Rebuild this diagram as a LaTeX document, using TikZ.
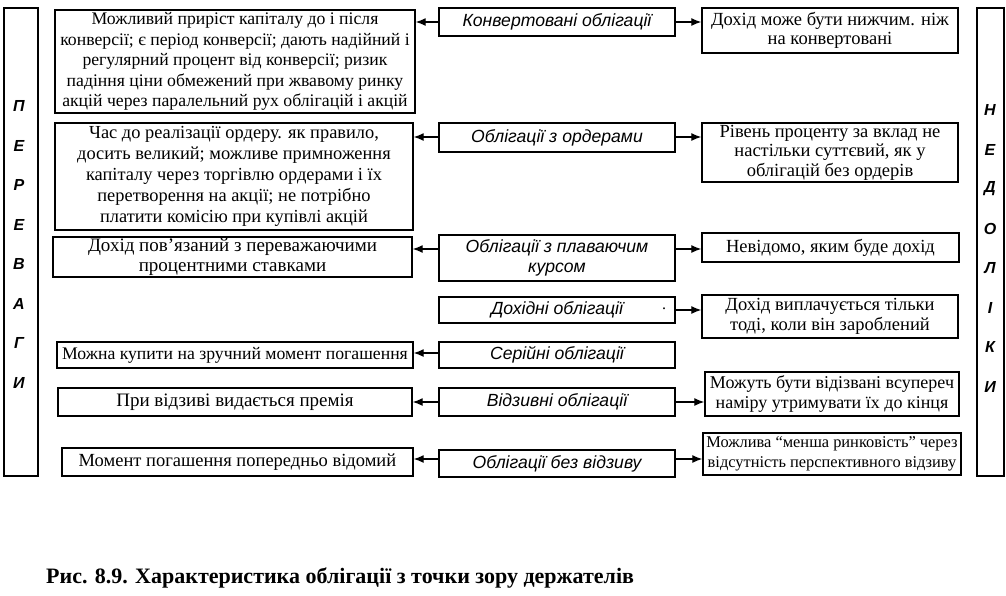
\documentclass[tikz,border=0pt]{standalone}
\usepackage{fontspec}
\setmainfont{Liberation Serif}
\newfontfamily\midfont{Liberation Sans}
\usetikzlibrary{arrows.meta}
\newcommand{\fs}[2]{\fontsize{#1}{#2}\selectfont}
\tikzset{
  box/.style={draw, line width=1.4pt, inner sep=0.5pt, align=center, font=\fs{17.7}{20.5}},
  lbox/.style={box},
  rbox/.style={box, font=\fs{18.5}{19.5}},
  mbox/.style={draw, line width=1.4pt, inner sep=0.5pt, align=center, minimum width=236pt, font=\midfont\itshape\fs{17.6}{20}},
  side/.style={draw, line width=1.2pt},
  sideletter/.style={font=\midfont\itshape\bfseries\fs{16}{16}, inner sep=0pt},
  arr/.style={-{Latex[length=10pt,width=8pt]}, line width=1.3pt},
  caption/.style={font=\bfseries\fs{22}{25}, anchor=west, inner sep=0pt}
}
\begin{document}
\begin{tikzpicture}[x=1pt,y=-1pt]
\useasboundingbox (0,0) rectangle (1006,595);
\fill[white] (0,0) rectangle (1006,595);

% side frames
\node[side, minimum width=34pt, minimum height=468pt, inner sep=0pt] (leftframe) at (21,242) {};
\node[side, minimum width=27pt, minimum height=468pt, inner sep=0pt] (rightframe) at (990.5,242) {};

% side letters
\foreach \t [count=\i from 0] in {П,Е,Р,Е,В,А,Г,И}
  \node[sideletter] (pl\i) at (19,{106+39.5*\i}) {\t};
\foreach \t [count=\i from 0] in {Н,Е,Д,О,Л,І,К,И}
  \node[sideletter] (nl\i) at (990,{110+39.5*\i}) {\t};

% left boxes
\node[lbox, minimum width=360pt, minimum height=103pt] (l1) at (235,61.5)
 {Можливий приріст капіталу до і після\\ конверсії; є період конверсії; дають надійний і\\ регулярний процент від конверсії; ризик\\ падіння ціни обмежений при жвавому ринку\\ акцій через паралельний рух облігацій і акцій};
\node[lbox, minimum width=358pt, minimum height=107pt, font=\fs{18.4}{21}] (l2) at (234,176.5)
 {Час до реалізації ордеру. як правило,\\ досить великий; можливе примноження\\ капіталу через торгівлю ордерами і їх\\ перетворення на акції; не потрібно\\ платити комісію при купівлі акцій};
\node[lbox, minimum width=359pt, minimum height=40pt, font=\fs{19}{19.5}] (l3) at (232.5,257)
 {Дохід пов’язаний з переважаючими\\ процентними ставками};
\node[lbox, minimum width=356pt, minimum height=26pt] (l4) at (235,355)
 {Можна купити на зручний момент погашення};
\node[lbox, minimum width=354pt, minimum height=28pt, font=\fs{19}{20}] (l5) at (235,402)
 {При відзиві видається премія};
\node[lbox, minimum width=351pt, minimum height=28pt, font=\fs{18.5}{20}] (l6) at (237.5,462)
 {Момент погашення попередньо відомий};

% middle boxes
\node[mbox, minimum height=28pt] (m1) at (557,22) {Конвертовані облігації};
\node[mbox, minimum height=29pt] (m2) at (557,137.5) {Облігації з ордерами};
\node[mbox, minimum height=46pt] (m3) at (557,258) {Облігації з плаваючим\\ курсом};
\node[mbox, minimum height=26pt] (m4) at (557,310) {Дохідні облігації};
\node[font=\fs{16}{16}, inner sep=0pt] (dot) at (664,309) {.};
\node[mbox, minimum height=26pt] (m5) at (557,355) {Серійні облігації};
\node[mbox, minimum height=28pt] (m6) at (557,402) {Відзивні облігації};
\node[mbox, minimum height=27pt] (m7) at (557,463.5) {Облігації без відзиву};

% right boxes
\node[rbox, minimum width=256pt, minimum height=45pt] (r1) at (830,30.5)
 {Дохід може бути нижчим. ніж\\ на конвертовані};
\node[rbox, minimum width=256pt, minimum height=59pt] (r2) at (830,152.5)
 {Рівень проценту за вклад не\\ настільки суттєвий, як у\\ облігацій без ордерів};
\node[rbox, minimum width=257pt, minimum height=29pt] (r3) at (830.5,247.5)
 {Невідомо, яким буде дохід};
\node[rbox, minimum width=256pt, minimum height=43pt] (r4) at (830,316.5)
 {Дохід виплачується тільки\\ тоді, коли він зароблений};
\node[rbox, minimum width=254pt, minimum height=44pt, font=\fs{18}{20}] (r5) at (832,394)
 {Можуть бути відізвані всупереч\\ наміру утримувати їх до кінця};
\node[rbox, minimum width=258pt, minimum height=42pt, font=\fs{16.4}{19.5}] (r6) at (832,454)
 {Можлива “менша ринковість” через\\ відсутність перспективного відзиву};

% arrow levels
\coordinate (y1) at (0,22);
\coordinate (y2) at (0,137);
\coordinate (y3) at (0,249);
\coordinate (y4) at (0,310);
\coordinate (y5) at (0,353);
\coordinate (y6) at (0,402);
\coordinate (y7) at (0,459);

% left arrows
\draw[arr] (m1.west |- y1) -- (l1.east |- y1);
\draw[arr] (m2.west |- y2) -- (l2.east |- y2);
\draw[arr] (m3.west |- y3) -- (l3.east |- y3);
\draw[arr] (m5.west |- y5) -- (l4.east |- y5);
\draw[arr] (m6.west |- y6) -- (l5.east |- y6);
\draw[arr] (m7.west |- y7) -- (l6.east |- y7);

% right arrows
\draw[arr] (m1.east |- y1) -- (r1.west |- y1);
\draw[arr] (m2.east |- y2) -- (r2.west |- y2);
\draw[arr] (m3.east |- y3) -- (r3.west |- y3);
\draw[arr] (m4.east |- y4) -- (r4.west |- y4);
\draw[arr] (m6.east |- y6) -- (r5.west |- y6);
\draw[arr] (m7.east |- y7) -- (r6.west |- y7);

% caption
\node[caption] (cap) at (46,578) {Рис. 8.9. Характеристика облігації з точки зору держателів};
\end{tikzpicture}
\end{document}
